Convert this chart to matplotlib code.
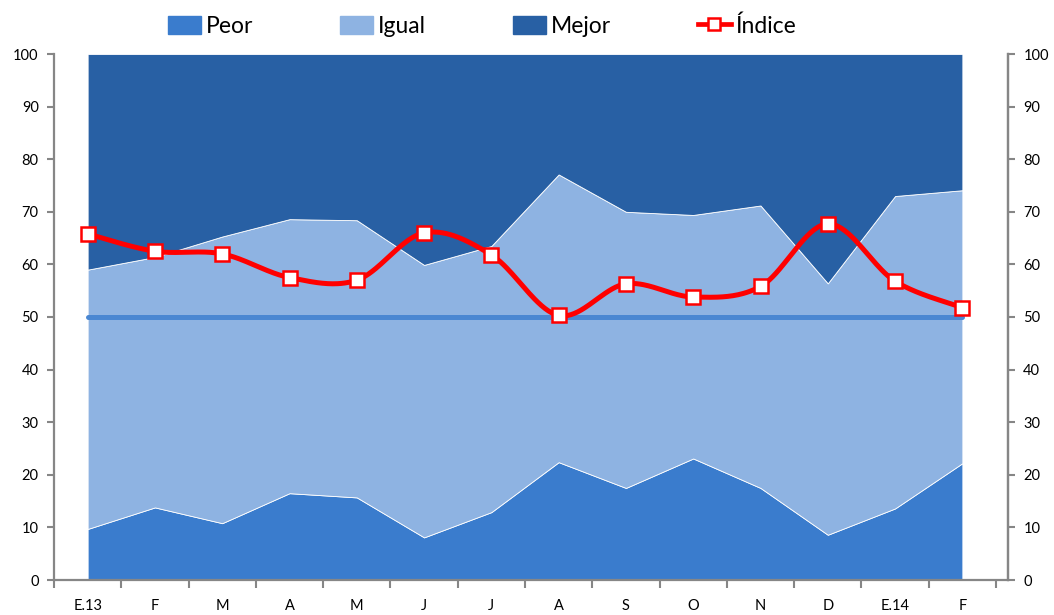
import numpy as np
import matplotlib
matplotlib.use("Agg")
import matplotlib.pyplot as plt
from matplotlib.lines import Line2D
from matplotlib.patches import Patch

plt.rcParams['font.family'] = ['Lato', 'DejaVu Sans']

categories = ["E.13", "F", "M", "A", "M", "J", "J", "A", "S", "O", "N", "D", "E.14", "F"]
peor = [9.7, 13.8, 10.8, 16.5, 15.7, 8.1, 12.9, 22.4, 17.5, 23.1, 17.5, 8.6, 13.6, 22.2]
igual = [49.3, 47.6, 54.5, 52.1, 52.7, 51.8, 50.6, 54.7, 52.5, 46.3, 53.7, 47.8, 59.4, 51.9]
mejor = [41.0, 38.6, 34.7, 31.4, 31.6, 40.1, 36.5, 22.9, 30.0, 30.6, 28.8, 43.6, 27.0, 25.9]
indice = [65.8, 62.5, 62.0, 57.5, 57.0, 66.0, 61.8, 50.3, 56.3, 53.8, 55.8, 67.7, 56.8, 51.8]
referencia = 50

c_peor = "#3A7CCD"
c_igual = "#8EB3E2"
c_mejor = "#2860A4"
c_ref = "#4A87D2"
c_axis = "#868686"

def smooth(xs, ys, n=40):
    xs = np.asarray(xs, float); ys = np.asarray(ys, float)
    P = np.column_stack([xs, ys])
    out = []
    for i in range(len(P) - 1):
        p0 = P[i - 1] if i > 0 else P[i]
        p1 = P[i]; p2 = P[i + 1]
        p3 = P[i + 2] if i + 2 < len(P) else P[i + 1]
        c1 = p1 + (p2 - p0) / 6.0
        c2 = p2 - (p3 - p1) / 6.0
        s = np.linspace(0, 1, n)[:, None]
        seg = (1 - s) ** 3 * p1 + 3 * (1 - s) ** 2 * s * c1 + 3 * (1 - s) * s ** 2 * c2 + s ** 3 * p2
        out.append(seg if i == 0 else seg[1:])
    out = np.vstack(out)
    return out[:, 0], out[:, 1]

fig = plt.figure(figsize=(10.54, 6.15), dpi=100)
ax = fig.add_axes([54 / 1054, 35 / 615, 954 / 1054, 526 / 615])

n = len(categories)
x = np.arange(n)
ax.stackplot(x, peor, igual, mejor, colors=[c_peor, c_igual, c_mejor],
             edgecolor="white", linewidth=0.6, zorder=1)
ax.plot([x[0], x[-1]], [referencia, referencia], color=c_ref, lw=3.6, solid_capstyle="round", zorder=2)
sx, sy = smooth(x, indice)
ax.plot(sx, sy, color="#FF0000", lw=3.6, zorder=3, solid_capstyle="round")
ax.plot(x, indice, ls="none", marker="s", ms=9.5, mfc="white", mec="#FF0000", mew=1.8, zorder=4)

ax.set_xlim(-0.5, n - 0.5 + 12 / 67.3)
ax.set_ylim(0, 100)
ax.set_yticks(range(0, 101, 10))
ax.set_xticks(x)
ax.set_xticklabels(categories)
ax.set_xticks(np.arange(-0.5, n, 1), minor=True)
ax.tick_params(axis="x", which="major", length=0, pad=14, labelsize=10.5, colors="black")
ax.tick_params(axis="x", which="minor", length=6, width=1.5, color=c_axis)
ax.tick_params(axis="y", length=5, width=1.5, color=c_axis, labelsize=10.5, pad=6)

ax.spines["top"].set_visible(False)
for side in ["left", "bottom", "right"]:
    ax.spines[side].set_color(c_axis)
    ax.spines[side].set_linewidth(1.6)

ax2 = ax.twinx()
ax2.set_ylim(0, 100)
ax2.set_yticks(range(0, 101, 10))
ax2.tick_params(axis="y", length=5, width=1.5, color=c_axis, labelsize=10.5, pad=6)
for side in ["top", "left", "bottom"]:
    ax2.spines[side].set_visible(False)
ax2.spines["right"].set_color(c_axis)
ax2.spines["right"].set_linewidth(1.6)

handles = [Patch(color=c_peor), Patch(color=c_igual), Patch(color=c_mejor),
           Line2D([0], [0], color="#FF0000", lw=3.4, marker="s", ms=9, mfc="white", mec="#FF0000", mew=1.8)]
fig.legend(handles, ["Peor", "Igual", "Mejor", "Índice"], loc="center",
           bbox_to_anchor=(482 / 1054, 1 - 26 / 615), ncol=4, frameon=False,
           fontsize=16.5, handlelength=1.45, handletextpad=0.2, columnspacing=3.8,
           handleheight=0.85)

fig.savefig("out.png", dpi=100)
